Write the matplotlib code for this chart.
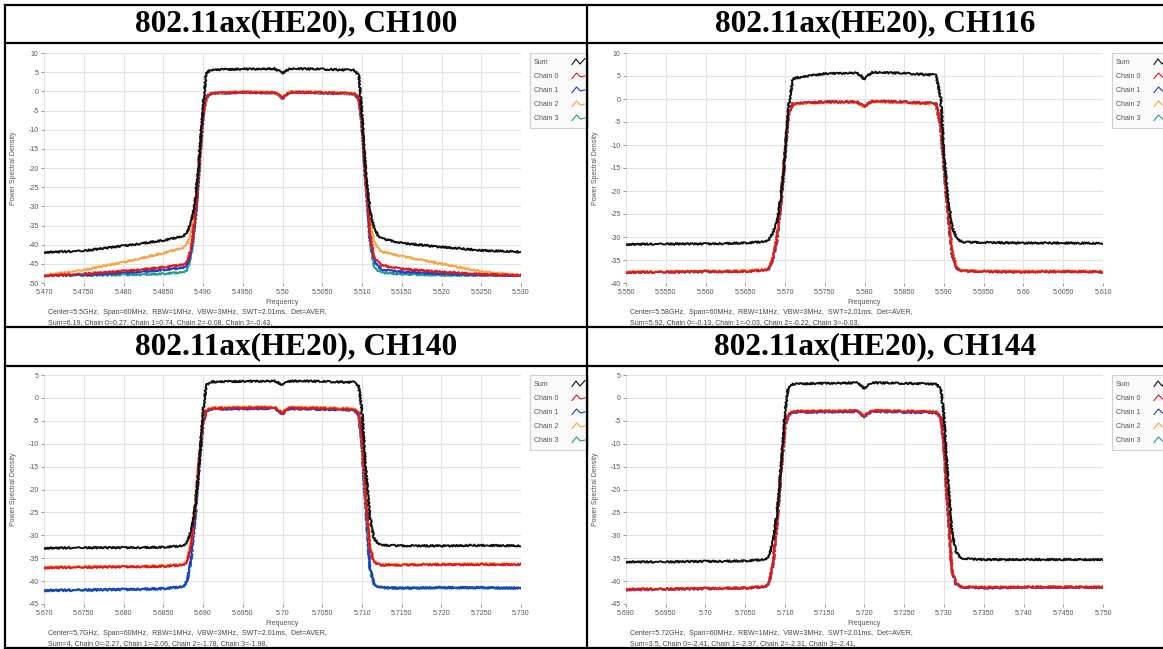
import matplotlib
matplotlib.use("Agg")
import matplotlib.pyplot as plt
from matplotlib.lines import Line2D
from matplotlib.patches import Rectangle

W, H = 1163, 649
plt.rcParams['axes.unicode_minus'] = False
plt.rcParams['font.family'] = ['Liberation Sans', 'DejaVu Sans']

# frequency offset from channel centre (MHz), shared by every trace
offset_mhz = [-30, -25, -20, -15, -12.5, -12, -11.5, -11, -10.5, -10, -9.6, -9, -5, -1, -0.4, 0,
              0.4, 1, 5, 9, 9.6, 10, 10.5, 11, 11.5, 12, 12.5, 15, 20, 25, 30]

titles = ["802.11ax(HE20), CH100", "802.11ax(HE20), CH116",
          "802.11ax(HE20), CH140", "802.11ax(HE20), CH144"]
centers_ghz = [5.50, 5.58, 5.70, 5.72]
y_ranges = [(-50, 10), (-40, 10), (-45, 5), (-45, 5)]

xtick_labels = [
    ["5.470", "5.4750", "5.480", "5.4850", "5.490", "5.4950", "5.50", "5.5050", "5.510", "5.5150", "5.520", "5.5250", "5.530"],
    ["5.550", "5.5550", "5.560", "5.5650", "5.570", "5.5750", "5.580", "5.5850", "5.590", "5.5950", "5.60", "5.6050", "5.610"],
    ["5.670", "5.6750", "5.680", "5.6850", "5.690", "5.6950", "5.70", "5.7050", "5.710", "5.7150", "5.720", "5.7250", "5.730"],
    ["5.690", "5.6950", "5.70", "5.7050", "5.710", "5.7150", "5.720", "5.7250", "5.730", "5.7350", "5.740", "5.7450", "5.750"],
]

info_top = [
    "Center=5.5GHz,  Span=60MHz,  RBW=1MHz,  VBW=3MHz,  SWT=2.01ms,  Det=AVER,",
    "Center=5.58GHz,  Span=60MHz,  RBW=1MHz,  VBW=3MHz,  SWT=2.01ms,  Det=AVER,",
    "Center=5.7GHz,  Span=60MHz,  RBW=1MHz,  VBW=3MHz,  SWT=2.01ms,  Det=AVER,",
    "Center=5.72GHz,  Span=60MHz,  RBW=1MHz,  VBW=3MHz,  SWT=2.01ms,  Det=AVER,",
]
info_bottom = [
    "Sum=6.19, Chain 0=0.27, Chain 1=0.74, Chain 2=-0.08, Chain 3=-0.43,",
    "Sum=5.92, Chain 0=-0.13, Chain 1=-0.03, Chain 2=-0.22, Chain 3=-0.03,",
    "Sum=4, Chain 0=-2.27, Chain 1=-2.06, Chain 2=-1.78, Chain 3=-1.98,",
    "Sum=3.5, Chain 0=-2.41, Chain 1=-2.97, Chain 2=-2.31, Chain 3=-2.41,",
]

# CH100
ch100_sum = [-42.0, -41.6, -40.3, -38.9, -37.8, -36.8, -34.0, -29.0, -18.0, -4.0, 4.8, 5.6, 5.8, 5.9, 5.3, 4.6,
             5.4, 5.9, 5.8, 5.5, 4.2, -6.0, -22.0, -31.0, -35.5, -37.5, -38.4, -39.6, -40.6, -41.5, -41.9]
ch100_c0 = [-48.1, -47.6, -46.9, -45.9, -45.2, -44.5, -41.0, -33.0, -20.0, -6.0, -1.5, -0.5, -0.2, -0.3, -1.0, -1.8,
            -0.9, -0.2, -0.3, -0.6, -1.8, -8.0, -24.0, -37.0, -43.0, -44.5, -45.4, -46.3, -47.1, -47.7, -48.0]
ch100_c1 = [-48.0, -47.9, -47.4, -46.6, -46.0, -45.3, -42.0, -34.0, -21.0, -6.5, -1.7, -0.6, -0.3, -0.4, -1.1, -1.9,
            -1.0, -0.3, -0.4, -0.7, -2.0, -8.5, -25.0, -38.0, -44.0, -45.6, -46.5, -47.1, -47.6, -47.9, -48.0]
ch100_c2 = [-48.0, -46.6, -44.6, -42.2, -40.8, -39.8, -37.0, -30.0, -19.0, -5.8, -1.4, -0.5, -0.1, -0.2, -0.9, -1.7,
            -0.8, -0.1, -0.2, -0.5, -1.7, -7.5, -22.0, -34.0, -39.0, -40.8, -41.8, -43.0, -45.0, -47.0, -48.0]
ch100_c3 = [-48.0, -48.0, -47.9, -47.6, -47.2, -46.6, -43.0, -34.5, -21.5, -6.5, -1.6, -0.6, -0.3, -0.4, -1.1, -1.9,
            -1.0, -0.3, -0.4, -0.7, -2.0, -8.5, -25.0, -39.0, -45.5, -46.8, -47.3, -47.7, -48.0, -48.0, -48.1]

# CH116
ch116_sum = [-31.6, -31.5, -31.5, -31.3, -31.0, -30.5, -29.0, -26.5, -21.0, -12.0, -2.0, 4.5, 5.5, 5.7, 5.0, 4.2,
             5.1, 5.8, 5.6, 5.2, 0.0, -12.0, -22.0, -27.5, -30.0, -30.8, -31.1, -31.2, -31.3, -31.3, -31.4]
ch116_c0 = [-37.7, -37.6, -37.5, -37.5, -37.2, -36.8, -34.5, -30.0, -22.0, -12.0, -3.5, -1.0, -0.7, -0.6, -1.2, -1.8,
            -1.0, -0.5, -0.7, -1.0, -6.0, -14.0, -25.0, -33.0, -36.5, -37.2, -37.4, -37.5, -37.6, -37.5, -37.6]
ch116_c1 = [-37.6, -37.6, -37.5, -37.4, -37.2, -36.9, -34.8, -30.5, -22.5, -12.5, -3.6, -1.0, -0.6, -0.6, -1.2, -1.8,
            -1.0, -0.5, -0.6, -1.0, -6.2, -14.5, -25.5, -33.5, -36.6, -37.2, -37.4, -37.5, -37.5, -37.5, -37.5]
ch116_c2 = [-37.5, -37.5, -37.4, -37.3, -37.0, -36.6, -34.2, -29.5, -21.5, -11.5, -3.4, -1.1, -0.8, -0.7, -1.3, -1.9,
            -1.1, -0.6, -0.8, -1.1, -5.8, -13.5, -24.5, -32.5, -36.2, -37.0, -37.3, -37.4, -37.4, -37.4, -37.5]
ch116_c3 = [-37.7, -37.6, -37.6, -37.5, -37.2, -36.9, -34.8, -30.5, -22.5, -12.5, -3.6, -1.0, -0.6, -0.6, -1.2, -1.8,
            -1.0, -0.5, -0.6, -1.0, -6.2, -14.5, -25.5, -33.5, -36.6, -37.2, -37.4, -37.5, -37.6, -37.5, -37.6]

# CH140
ch140_sum = [-32.8, -32.7, -32.7, -32.6, -32.3, -31.5, -29.0, -24.0, -15.0, -3.0, 2.8, 3.5, 3.6, 3.7, 3.2, 2.8,
             3.3, 3.7, 3.6, 3.4, 2.5, -3.0, -16.0, -26.0, -30.5, -31.8, -32.1, -32.3, -32.3, -32.2, -32.3]
ch140_c0 = [-37.1, -37.0, -36.9, -36.8, -36.5, -35.8, -32.0, -24.0, -14.0, -5.0, -2.8, -2.3, -2.2, -2.1, -2.8, -3.4,
            -2.6, -2.2, -2.3, -2.5, -3.5, -9.0, -22.0, -33.0, -35.8, -36.3, -36.5, -36.5, -36.4, -36.4, -36.4]
ch140_c1 = [-42.0, -41.9, -41.8, -41.6, -41.2, -40.0, -35.0, -26.0, -15.0, -5.5, -3.0, -2.5, -2.4, -2.3, -3.0, -3.6,
            -2.8, -2.4, -2.5, -2.7, -3.8, -10.0, -25.0, -37.0, -40.5, -41.2, -41.4, -41.5, -41.4, -41.4, -41.5]
ch140_c2 = [-36.9, -36.8, -36.8, -36.6, -36.3, -35.5, -31.5, -23.5, -13.5, -4.8, -2.6, -2.1, -2.0, -1.9, -2.6, -3.2,
            -2.4, -2.0, -2.1, -2.3, -3.3, -8.5, -21.5, -32.5, -35.5, -36.1, -36.3, -36.3, -36.3, -36.2, -36.3]
ch140_c3 = [-42.1, -42.0, -41.9, -41.7, -41.3, -40.2, -35.5, -26.5, -15.5, -5.6, -3.0, -2.4, -2.3, -2.2, -2.9, -3.5,
            -2.7, -2.3, -2.4, -2.6, -3.7, -10.2, -25.5, -37.5, -40.7, -41.3, -41.5, -41.6, -41.5, -41.5, -41.6]

# CH144
ch144_sum = [-35.8, -35.8, -35.7, -35.6, -35.3, -34.5, -31.0, -25.0, -15.0, -3.0, 2.2, 3.0, 3.2, 3.3, 2.7, 2.0,
             2.8, 3.3, 3.2, 3.0, 2.0, -4.0, -18.0, -29.0, -33.5, -34.8, -35.1, -35.3, -35.3, -35.3, -35.3]
ch144_c0 = [-41.8, -41.7, -41.6, -41.5, -41.2, -40.3, -36.0, -27.0, -16.0, -6.0, -3.6, -3.0, -2.9, -2.8, -3.5, -4.0,
            -3.3, -2.8, -2.9, -3.1, -4.2, -10.0, -25.0, -37.5, -40.5, -41.1, -41.3, -41.4, -41.3, -41.3, -41.3]
ch144_c1 = [-41.9, -41.8, -41.7, -41.5, -41.3, -40.5, -36.5, -27.5, -16.5, -6.3, -3.9, -3.2, -3.1, -3.0, -3.7, -4.2,
            -3.5, -3.0, -3.1, -3.3, -4.4, -10.5, -25.5, -37.8, -40.7, -41.2, -41.4, -41.5, -41.4, -41.4, -41.4]
ch144_c2 = [-41.7, -41.7, -41.6, -41.4, -41.1, -40.2, -35.8, -26.8, -15.8, -5.8, -3.5, -2.9, -2.8, -2.7, -3.4, -3.9,
            -3.2, -2.7, -2.8, -3.0, -4.1, -9.8, -24.8, -37.3, -40.4, -41.0, -41.2, -41.3, -41.3, -41.2, -41.3]
ch144_c3 = [-41.8, -41.8, -41.6, -41.5, -41.2, -40.3, -36.0, -27.0, -16.0, -6.0, -3.6, -3.0, -2.9, -2.8, -3.5, -4.0,
            -3.3, -2.8, -2.9, -3.1, -4.2, -10.0, -25.0, -37.5, -40.5, -41.1, -41.3, -41.4, -41.3, -41.3, -41.3]

panels_sum = [ch100_sum, ch116_sum, ch140_sum, ch144_sum]
panels_chains = [[ch100_c0, ch100_c1, ch100_c2, ch100_c3],
                 [ch116_c0, ch116_c1, ch116_c2, ch116_c3],
                 [ch140_c0, ch140_c1, ch140_c2, ch140_c3],
                 [ch144_c0, ch144_c1, ch144_c2, ch144_c3]]

series_names = ["Sum", "Chain 0", "Chain 1", "Chain 2", "Chain 3"]
series_colors = ["#111111", "#e3161d", "#1d3fc4", "#f6a541", "#1f9e8c"]
chain_zorder = [5, 3, 4, 2]

fig = plt.figure(figsize=(W / 100, H / 100), dpi=100)

def fx(px):
    return px / W

def fy(py):
    return 1 - py / H

# axes boxes in pixels: left, right, top, bottom
boxes = [(44, 521, 53, 283), (626, 1103, 53, 283), (44, 521, 375, 604), (626, 1103, 375, 604)]
cell_centres = [(296, 24), (875, 24), (296, 347), (875, 347)]
legend_anchor = [(530, 53), (1112, 53), (530, 375), (1112, 375)]

for i in range(4):
    l, r, t, b = boxes[i]
    ax = fig.add_axes([fx(l), fy(b), fx(r - l), (b - t) / H])
    freq = [centers_ghz[i] + o / 1000 for o in offset_mhz]

    sum_line, = ax.plot(freq, panels_sum[i], color=series_colors[0], lw=1.4, zorder=6)
    sum_line.set_sketch_params(scale=0.9, length=2.0, randomness=2)
    for k in range(4):
        ln, = ax.plot(freq, panels_chains[i][k], color=series_colors[k + 1], lw=1.4,
                      zorder=chain_zorder[k])
        ln.set_sketch_params(scale=0.9, length=2.0, randomness=2)

    lo, hi = y_ranges[i]
    ax.set_ylim(lo, hi)
    ax.set_yticks(list(range(lo, hi + 1, 5)))
    ticks = [float(s) for s in xtick_labels[i]]
    ax.set_xlim(ticks[0], ticks[-1])
    ax.set_xticks(ticks)
    ax.set_xticklabels(xtick_labels[i])
    ax.grid(True, color="#e3e3e3", lw=0.8)
    ax.set_axisbelow(True)
    for s in ax.spines.values():
        s.set_visible(False)
    ax.tick_params(axis="both", labelsize=5, colors="#888888", labelcolor="#555555",
                   length=2.5, width=0.6, pad=1.5, direction="out")

    ax.set_ylabel("Power Spectral Density", fontsize=5, color="#555555")
    ax.yaxis.set_label_coords(-0.056, 0.5)
    ax.text(0.5, -0.085, "Frequency", transform=ax.transAxes, ha="center", va="center",
            fontsize=5, color="#555555")
    ax.text(0.008, -0.128, info_top[i], transform=ax.transAxes, ha="left", va="center",
            fontsize=5, color="#444444")
    ax.text(0.008, -0.172, info_bottom[i], transform=ax.transAxes, ha="left", va="center",
            fontsize=5, color="#444444")

    # legend box drawn by hand: label on the left, small wave icon on the right
    lx, ly = legend_anchor[i]
    fig.add_artist(Rectangle((fx(lx), fy(ly + 75)), fx(58), 75 / H, transform=fig.transFigure,
                             facecolor="#fafafa", edgecolor="#d0d0d0", lw=0.8, zorder=8))
    for j, name in enumerate(series_names):
        ry = ly + 9 + 14 * j
        fig.text(fx(lx + 4), fy(ry), name, ha="left", va="center", fontsize=5,
                 color="#555555", zorder=9)
        if j == 0:
            wx, wy = [0, 4, 8, 13], [2.5, -3, 2, -3.5]
        else:
            wx, wy = [0, 4.5, 8.5, 13], [2.5, -3, 1, 0]
        fig.add_artist(Line2D([fx(lx + 42 + v) for v in wx], [fy(ry + v) for v in wy],
                              color=series_colors[j], lw=0.8, transform=fig.transFigure, zorder=9))

    cx, cy = cell_centres[i]
    fig.text(fx(cx), fy(cy), titles[i], ha="center", va="center", fontsize=22.5,
             fontweight="bold", family="Liberation Serif", color="black")

# table rules
border_kw = dict(color="black", lw=1.6, zorder=20)
for py in [5, 43, 327, 366, 648]:
    fig.add_artist(Line2D([fx(5), 1], [fy(py), fy(py)], **border_kw))
for px in [5, 587]:
    fig.add_artist(Line2D([fx(px), fx(px)], [fy(5), fy(648)], **border_kw))

fig.savefig("out.png", dpi=100)
